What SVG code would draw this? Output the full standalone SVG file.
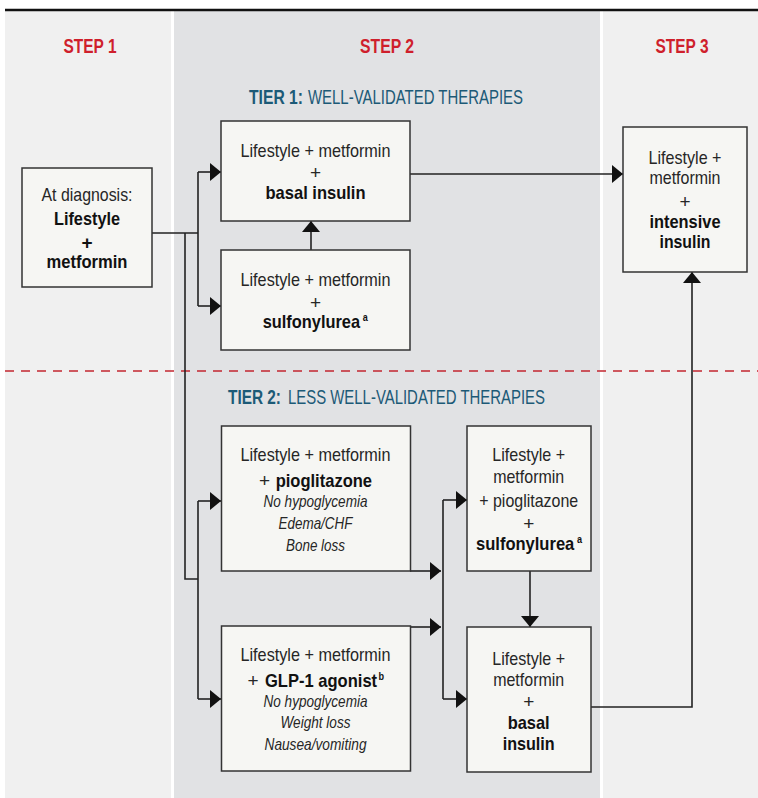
<svg xmlns="http://www.w3.org/2000/svg" width="758" height="798" viewBox="0 0 758 798">
<style>
text{font-family:"Liberation Sans",Arial,sans-serif;fill:#262626;}
.step{font-size:20px;font-weight:bold;fill:#cf1f2c;text-anchor:middle;}
.tierb{font-size:19.5px;font-weight:bold;fill:#1c5a77;}
.tier{font-size:19.5px;fill:#1c5a77;}
.r{font-size:19px;text-anchor:middle;}
.rs{font-size:19px;}
.b{font-size:19px;font-weight:bold;text-anchor:middle;fill:#111;}
.bs{font-size:19px;font-weight:bold;fill:#111;}
.i{font-size:16.5px;font-style:italic;text-anchor:middle;}
.sup{font-size:10.5px;}
.box{fill:#f6f6f3;stroke:#333;stroke-width:1.5;}
.con{fill:none;stroke:#222;stroke-width:1.6;}
</style>
<defs>
<marker id="ah" markerUnits="userSpaceOnUse" markerWidth="12" markerHeight="18" refX="11" refY="9" orient="auto">
<path d="M0,0 L11,9 L0,18 z" fill="#111"/>
</marker>
</defs>
<rect width="758" height="798" fill="#fff"/>
<rect x="5" y="11" width="166" height="787" fill="#f0f0f0"/>
<rect x="174" y="11" width="426" height="787" fill="#e1e2e4"/>
<rect x="603" y="11" width="155" height="787" fill="#f0f0f0"/>
<line x1="5" y1="10" x2="758" y2="10" stroke="#111" stroke-width="2.5"/>
<line x1="5" y1="371" x2="758" y2="371" stroke="#c2262f" stroke-width="1.4" stroke-dasharray="9 7"/>
<g id="headers">
<text class="step" x="90" y="53" textLength="53" lengthAdjust="spacingAndGlyphs">STEP 1</text>
<text class="step" x="387" y="53" textLength="54" lengthAdjust="spacingAndGlyphs">STEP 2</text>
<text class="step" x="682" y="53" textLength="53" lengthAdjust="spacingAndGlyphs">STEP 3</text>
<text class="tierb" x="249" y="104" textLength="54" lengthAdjust="spacingAndGlyphs">TIER 1:</text>
<text class="tier" x="308" y="104" textLength="215" lengthAdjust="spacingAndGlyphs">WELL-VALIDATED THERAPIES</text>
<text class="tierb" x="228" y="404" textLength="53" lengthAdjust="spacingAndGlyphs">TIER 2:</text>
<text class="tier" x="288" y="404" textLength="257" lengthAdjust="spacingAndGlyphs">LESS WELL-VALIDATED THERAPIES</text>
</g>
<g id="connectors">
<path class="con" d="M152,233 H198 M198,172 V306 M185,233 V579 H198 M198,501 V699 M443,500 V699"/>
<path class="con" d="M198,172 H221" marker-end="url(#ah)"/>
<path class="con" d="M198,306 H221" marker-end="url(#ah)"/>
<path class="con" d="M198,501 H221" marker-end="url(#ah)"/>
<path class="con" d="M198,699 H221" marker-end="url(#ah)"/>
<path class="con" d="M410,174 H623" marker-end="url(#ah)"/>
<path class="con" d="M311,250 V221" marker-end="url(#ah)"/>
<path class="con" d="M410,571 H441" marker-end="url(#ah)"/>
<path class="con" d="M410,627 H441" marker-end="url(#ah)"/>
<path class="con" d="M443,500 H467" marker-end="url(#ah)"/>
<path class="con" d="M443,699 H467" marker-end="url(#ah)"/>
<path class="con" d="M530,571 V627" marker-end="url(#ah)"/>
<path class="con" d="M591,707 H692 V272" marker-end="url(#ah)"/>
</g>
<g id="diagnosis">
<rect class="box" x="22" y="168" width="130" height="119"/>
<text class="r" x="87" y="201" textLength="91" lengthAdjust="spacingAndGlyphs">At diagnosis:</text>
<text class="b" x="87" y="225" textLength="66" lengthAdjust="spacingAndGlyphs">Lifestyle</text>
<text class="b" x="87" y="249">+</text>
<text class="b" x="87" y="268" textLength="81" lengthAdjust="spacingAndGlyphs">metformin</text>
</g>
<g id="basal-insulin">
<rect class="box" x="221" y="121" width="189" height="100"/>
<text class="r" x="315.5" y="157" textLength="150" lengthAdjust="spacingAndGlyphs">Lifestyle + metformin</text>
<text class="r" x="315.5" y="179">+</text>
<text class="b" x="315.5" y="199" textLength="100" lengthAdjust="spacingAndGlyphs">basal insulin</text>
</g>
<g id="sulfonylurea">
<rect class="box" x="221" y="250" width="189" height="100"/>
<text class="r" x="315.5" y="286" textLength="150" lengthAdjust="spacingAndGlyphs">Lifestyle + metformin</text>
<text class="r" x="315.5" y="309">+</text>
<text class="bs" x="262.7" y="328" textLength="105" lengthAdjust="spacingAndGlyphs">sulfonylurea<tspan class="sup" dx="3" dy="-7">a</tspan></text>
</g>
<g id="intensive-insulin">
<rect class="box" x="623" y="127" width="124" height="145"/>
<text class="r" x="685" y="164" textLength="73" lengthAdjust="spacingAndGlyphs">Lifestyle +</text>
<text class="r" x="685" y="184" textLength="71" lengthAdjust="spacingAndGlyphs">metformin</text>
<text class="r" x="685" y="208">+</text>
<text class="b" x="685" y="228" textLength="71" lengthAdjust="spacingAndGlyphs">intensive</text>
<text class="b" x="685" y="248" textLength="51" lengthAdjust="spacingAndGlyphs">insulin</text>
</g>
<g id="pioglitazone">
<rect class="box" x="221.5" y="426" width="189" height="145"/>
<text class="r" x="315.5" y="461" textLength="150" lengthAdjust="spacingAndGlyphs">Lifestyle + metformin</text>
<text class="rs" x="259" y="487">+</text>
<text class="bs" x="275.7" y="487" textLength="96.3" lengthAdjust="spacingAndGlyphs">pioglitazone</text>
<text class="i" x="315.5" y="507" textLength="104" lengthAdjust="spacingAndGlyphs">No hypoglycemia</text>
<text class="i" x="315.5" y="529" textLength="74" lengthAdjust="spacingAndGlyphs">Edema/CHF</text>
<text class="i" x="315.5" y="550.5" textLength="59" lengthAdjust="spacingAndGlyphs">Bone loss</text>
</g>
<g id="pio-sulfonylurea">
<rect class="box" x="467" y="426" width="124" height="145"/>
<text class="r" x="528.7" y="461" textLength="73" lengthAdjust="spacingAndGlyphs">Lifestyle +</text>
<text class="r" x="528.7" y="483" textLength="71" lengthAdjust="spacingAndGlyphs">metformin</text>
<text class="r" x="528.7" y="507" textLength="99" lengthAdjust="spacingAndGlyphs">+ pioglitazone</text>
<text class="r" x="528.7" y="530">+</text>
<text class="bs" x="476" y="550" textLength="106" lengthAdjust="spacingAndGlyphs">sulfonylurea<tspan class="sup" dx="3" dy="-7">a</tspan></text>
</g>
<g id="glp1">
<rect class="box" x="221.5" y="626" width="189" height="145"/>
<text class="r" x="315.5" y="661" textLength="150" lengthAdjust="spacingAndGlyphs">Lifestyle + metformin</text>
<text class="rs" x="247.5" y="687">+</text>
<text class="bs" x="265" y="687" textLength="119" lengthAdjust="spacingAndGlyphs">GLP-1 agonist<tspan class="sup" dx="1.5" dy="-7">b</tspan></text>
<text class="i" x="315.5" y="707" textLength="104" lengthAdjust="spacingAndGlyphs">No hypoglycemia</text>
<text class="i" x="315.5" y="728" textLength="70" lengthAdjust="spacingAndGlyphs">Weight loss</text>
<text class="i" x="315.5" y="750" textLength="102" lengthAdjust="spacingAndGlyphs">Nausea/vomiting</text>
</g>
<g id="tier2-basal-insulin">
<rect class="box" x="467" y="627" width="124" height="145"/>
<text class="r" x="528.7" y="665" textLength="73" lengthAdjust="spacingAndGlyphs">Lifestyle +</text>
<text class="r" x="528.7" y="686" textLength="71" lengthAdjust="spacingAndGlyphs">metformin</text>
<text class="r" x="528.7" y="708">+</text>
<text class="b" x="528.7" y="729" textLength="42" lengthAdjust="spacingAndGlyphs">basal</text>
<text class="b" x="528.7" y="750" textLength="52" lengthAdjust="spacingAndGlyphs">insulin</text>
</g>
</svg>
